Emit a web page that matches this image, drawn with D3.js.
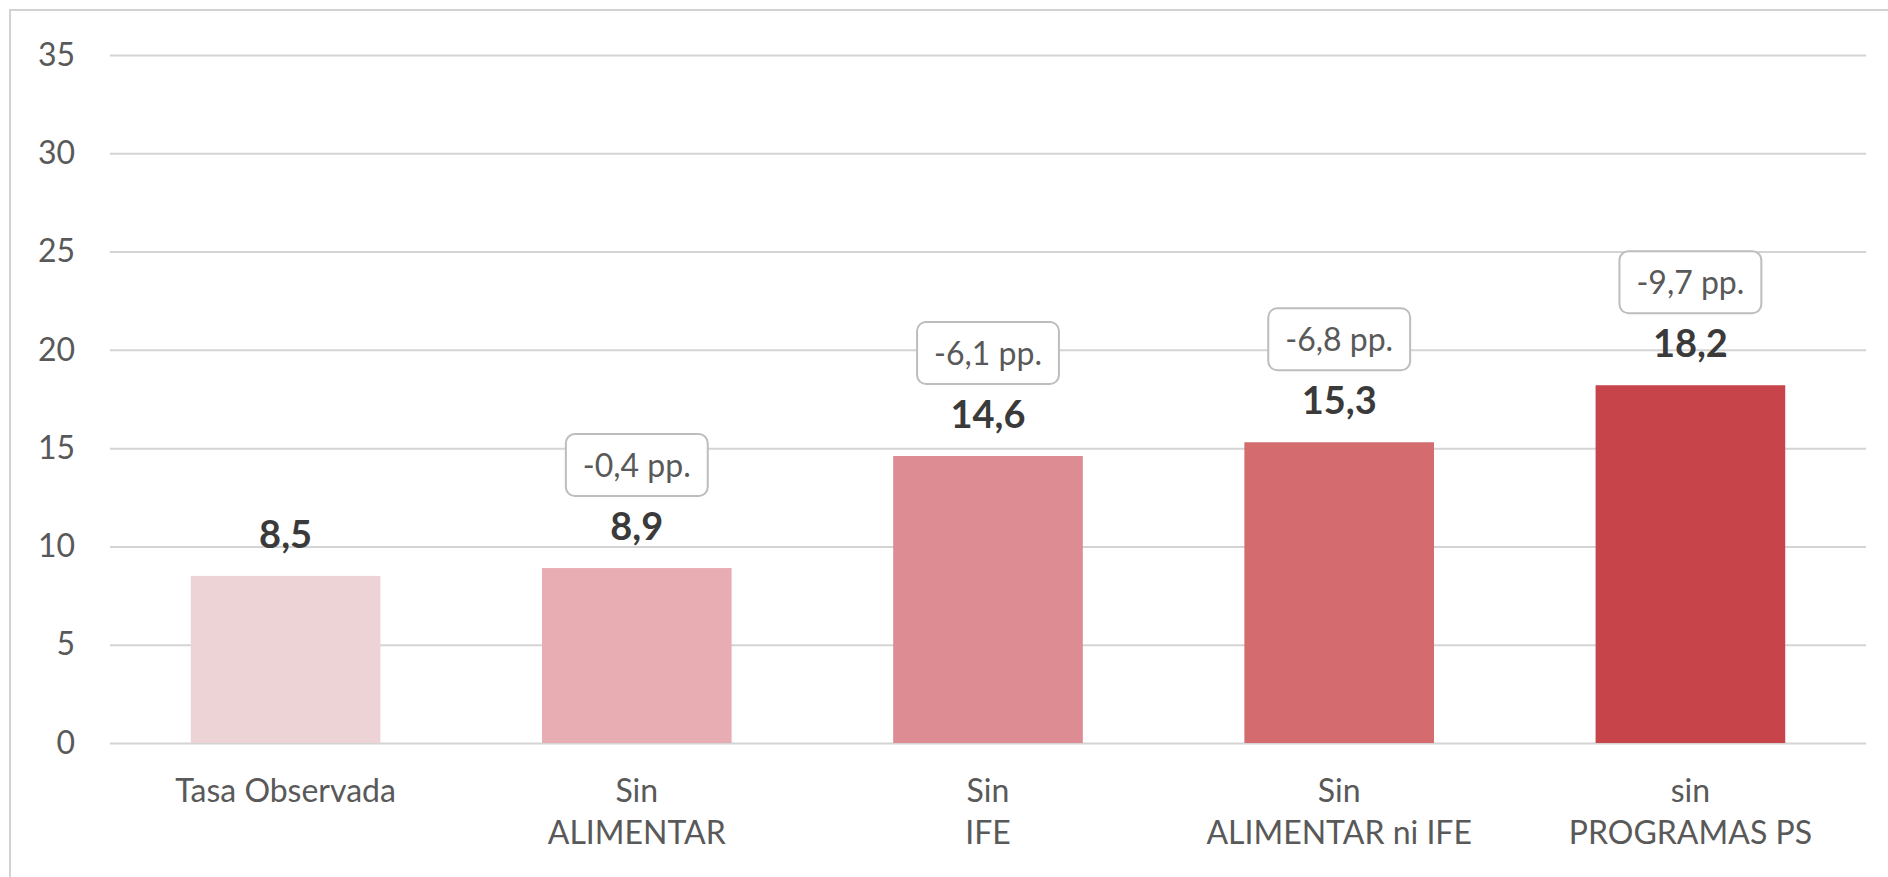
<!DOCTYPE html>
<html>
<head>
<meta charset="utf-8">
<script src="https://cdn.jsdelivr.net/npm/d3@7"></script>
<style>
  html, body { margin: 0; padding: 0; background: #fff; }
  svg { display: block; font-family: Lato, "Open Sans", sans-serif; }
</style>
</head>
<body>
<svg id="chart" width="1888" height="877"></svg>
<script>
// Tasa por escenario (%), y diferencia respecto de la tasa observada (pp.)
const categories = [
  ["Tasa Observada"],
  ["Sin", "ALIMENTAR"],
  ["Sin", "IFE"],
  ["Sin", "ALIMENTAR ni IFE"],
  ["sin", "PROGRAMAS PS"]
];
const values = [8.5, 8.9, 14.6, 15.3, 18.2];
const differences = [null, -0.4, -6.1, -6.8, -9.7];
const barColors = ["#EDD3D5", "#E8ADB3", "#DC8C92", "#D36B6F", "#C7444A"];
const yTicks = [0, 5, 10, 15, 20, 25, 30, 35];

const W = 1888, H = 877;
const svg = d3.select("#chart");

// decimal comma, plain hyphen for negatives
const locale = d3.formatLocale({ decimal: ",", thousands: ".", grouping: [3], currency: ["", ""], minus: "-" });
const fmt = locale.format(".1f");

const x = d3.scaleBand()
  .domain(d3.range(values.length))
  .range([110, 1866])
  .paddingInner(0.46)
  .paddingOuter(0.23);

const y = d3.scaleLinear().domain([0, 35]).range([743, 55]);

// outer frame
svg.append("rect")
  .attr("x", 10).attr("y", 10)
  .attr("width", W).attr("height", H)
  .attr("fill", "none")
  .attr("stroke", "#d2d2d2")
  .attr("stroke-width", 2);

// horizontal gridlines + tick labels
const yAxis = d3.axisLeft(y)
  .tickValues(yTicks)
  .tickSize(-(1866 - 110))
  .tickPadding(35)
  .tickFormat(d3.format("d"));

const gy = svg.append("g")
  .attr("transform", "translate(110,0)")
  .call(yAxis);
gy.select(".domain").remove();
gy.selectAll(".tick line").attr("stroke", "#d4d4d4").attr("stroke-width", 2);
gy.selectAll(".tick text")
  .attr("fill", "#595959")
  .style("font-size", "32px")
  .style("font-family", "Lato, sans-serif");

// bars
svg.append("g").selectAll("rect")
  .data(values)
  .join("rect")
  .attr("x", (d, i) => x(i))
  .attr("width", x.bandwidth())
  .attr("y", d => y(d))
  .attr("height", d => y(0) - y(d))
  .attr("fill", (d, i) => barColors[i]);

// value labels
svg.append("g").selectAll("text")
  .data(values)
  .join("text")
  .attr("x", (d, i) => x(i) + x.bandwidth() / 2)
  .attr("y", d => y(d) - 28)
  .attr("text-anchor", "middle")
  .attr("fill", "#3a3a3a")
  .style("font-size", "38px")
  .style("font-weight", "bold")
  .text(d => fmt(d));

// difference callouts
const callouts = svg.append("g").selectAll("g")
  .data(values.map((v, i) => ({ v, i, diff: differences[i] })).filter(d => d.diff !== null))
  .join("g")
  .attr("transform", d => `translate(${x(d.i) + x.bandwidth() / 2},${y(d.v) - 28 - 44})`);

callouts.each(function (d) {
  const g = d3.select(this);
  const rect = g.append("rect");
  const t = g.append("text")
    .attr("text-anchor", "middle")
    .attr("y", -19)
    .attr("fill", "#595959")
    .style("font-size", "32px")
    .text(fmt(d.diff) + " pp.");
  const w = t.node().getComputedTextLength() + 34;
  rect.attr("x", -w / 2).attr("y", -62)
    .attr("width", w).attr("height", 62)
    .attr("rx", 9).attr("ry", 9)
    .attr("fill", "#fff")
    .attr("stroke", "#bdbdbd")
    .attr("stroke-width", 2);
});

// category labels
const cat = svg.append("g").selectAll("text")
  .data(categories)
  .join("text")
  .attr("x", (d, i) => x(i) + x.bandwidth() / 2)
  .attr("y", 802)
  .attr("text-anchor", "middle")
  .attr("fill", "#595959")
  .style("font-size", "32px");
cat.selectAll("tspan")
  .data(d => d)
  .join("tspan")
  .attr("x", function () { return d3.select(this.parentNode).attr("x"); })
  .attr("dy", (d, j) => j === 0 ? 0 : 42)
  .text(d => d);
</script>
</body>
</html>
